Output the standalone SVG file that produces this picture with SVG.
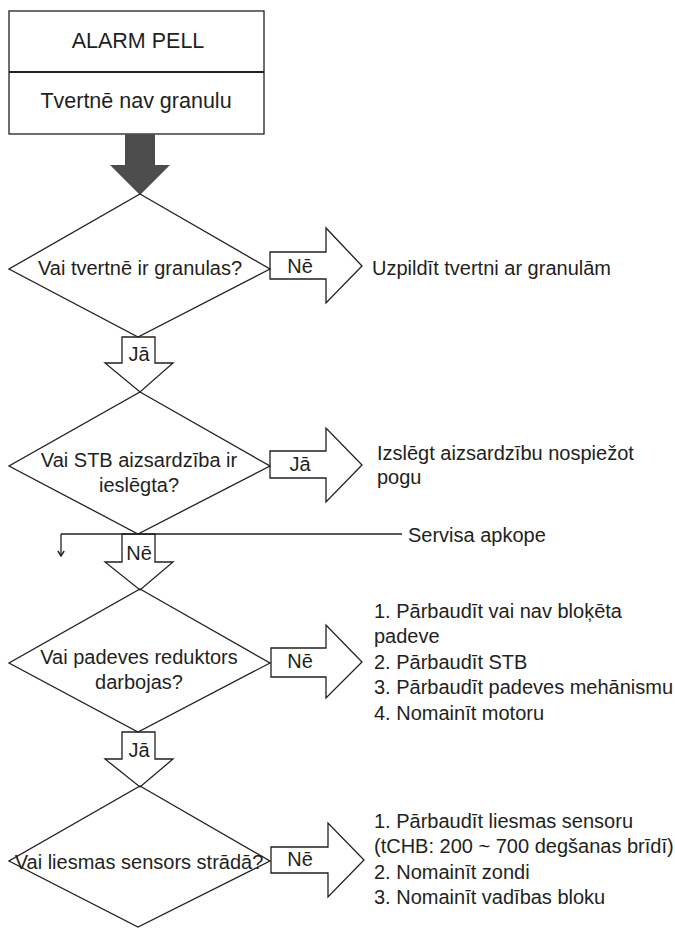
<svg xmlns="http://www.w3.org/2000/svg" width="675" height="928" viewBox="0 0 675 928">
<defs>
<style>
text{font-family:"Liberation Sans",Arial,sans-serif;font-size:20px;fill:#231f20}
.c{text-anchor:middle}
.big{font-size:21.5px}
.sh{fill:none;stroke:#231f20;stroke-width:1.3;stroke-linejoin:miter}
.ar{fill:none;stroke:#231f20;stroke-width:1.3}
</style>
<marker id="ah" markerWidth="8" markerHeight="8" refX="7" refY="4" orient="auto" markerUnits="userSpaceOnUse" viewBox="0 0 8 8">
<path d="M2,0.8 L7,4 L2,7.2" fill="none" stroke="#231f20" stroke-width="1.4"/>
</marker>
</defs>
<rect width="675" height="928" fill="#fff"/>
<g id="alarm">
<rect x="9" y="11" width="255" height="123" class="sh" stroke-width="1.6"/>
<line x1="9" y1="72" x2="264" y2="72" stroke="#231f20" stroke-width="2.2"/>
<text x="138" y="48" class="c big">ALARM PELL</text>
<text x="136" y="108" class="c big">Tvertnē nav granulu</text>
</g>
<g id="connectors">
<polygon points="125,134 155,134 155,165 170,165 140,195 110,165 125,165" fill="#4d4d4d"/>
<polygon points="270,252 326,252 326,228 362,266 326,303 326,279 270,279" class="ar"/>
<text x="300" y="273" class="c">Nē</text>
<polygon points="122,337 155,337 155,363 173,363 140,392 105,363 122,363" class="ar"/>
<text x="139" y="361" class="c">Jā</text>
<polygon points="270,451 326,451 326,428 362,465 326,502 326,478 270,478" class="ar"/>
<text x="300" y="471" class="c">Jā</text>
<line x1="61" y1="534" x2="402" y2="534" class="ar"/>
<line x1="61" y1="534" x2="61" y2="556" class="ar" marker-end="url(#ah)"/>
<polygon points="122,534 155,534 155,562 173,562 140,590 105,562 122,562" class="ar"/>
<text x="139" y="560" class="c">Nē</text>
<polygon points="271,648 326,648 326,625 362,662 326,698 326,677 271,677" class="ar"/>
<text x="300" y="668" class="c">Nē</text>
<polygon points="122,732 155,732 155,759 173,759 140,787 105,759 122,759" class="ar"/>
<text x="139" y="757" class="c">Jā</text>
<polygon points="271,847 328,847 328,823 364,860 328,897 328,873 271,873" class="ar"/>
<text x="300" y="866" class="c">Nē</text>
</g>
<g id="q1">
<polygon points="140,194 270,269 138,337 9,269" class="sh"/>
<text x="140" y="275" class="c">Vai tvertnē ir granulas?</text>
</g>
<g id="a1"><text x="372" y="275">Uzpildīt tvertni ar granulām</text></g>
<g id="q2">
<polygon points="140,392 270,466 138,534 9,466" class="sh"/>
<text x="139" y="467" class="c">Vai STB aizsardzība ir</text>
<text x="139" y="492" class="c">ieslēgta?</text>
</g>
<g id="a2">
<text x="377" y="460">Izslēgt aizsardzību nospiežot</text>
<text x="377" y="484">pogu</text>
</g>
<g id="service"><text x="408" y="542">Servisa apkope</text></g>
<g id="q3">
<polygon points="140,589 270,663 138,732 9,663" class="sh"/>
<text x="139" y="664" class="c">Vai padeves reduktors</text>
<text x="139" y="689" class="c">darbojas?</text>
</g>
<g id="a3">
<text x="374" y="618">1. Pārbaudīt vai nav bloķēta</text>
<text x="374" y="643">padeve</text>
<text x="374" y="669">2. Pārbaudīt STB</text>
<text x="374" y="694">3. Pārbaudīt padeves mehānismu</text>
<text x="374" y="720">4. Nomainīt motoru</text>
</g>
<g id="q4">
<polygon points="140,786 270,861 138,927 9,861" class="sh"/>
<text x="139" y="869" class="c">Vai liesmas sensors strādā?</text>
</g>
<g id="a4">
<text x="374" y="828">1. Pārbaudīt liesmas sensoru</text>
<text x="374" y="853">(tCHB: 200 ~ 700 degšanas brīdī)</text>
<text x="374" y="879">2. Nomainīt zondi</text>
<text x="374" y="904">3. Nomainīt vadības bloku</text>
</g>
</svg>
